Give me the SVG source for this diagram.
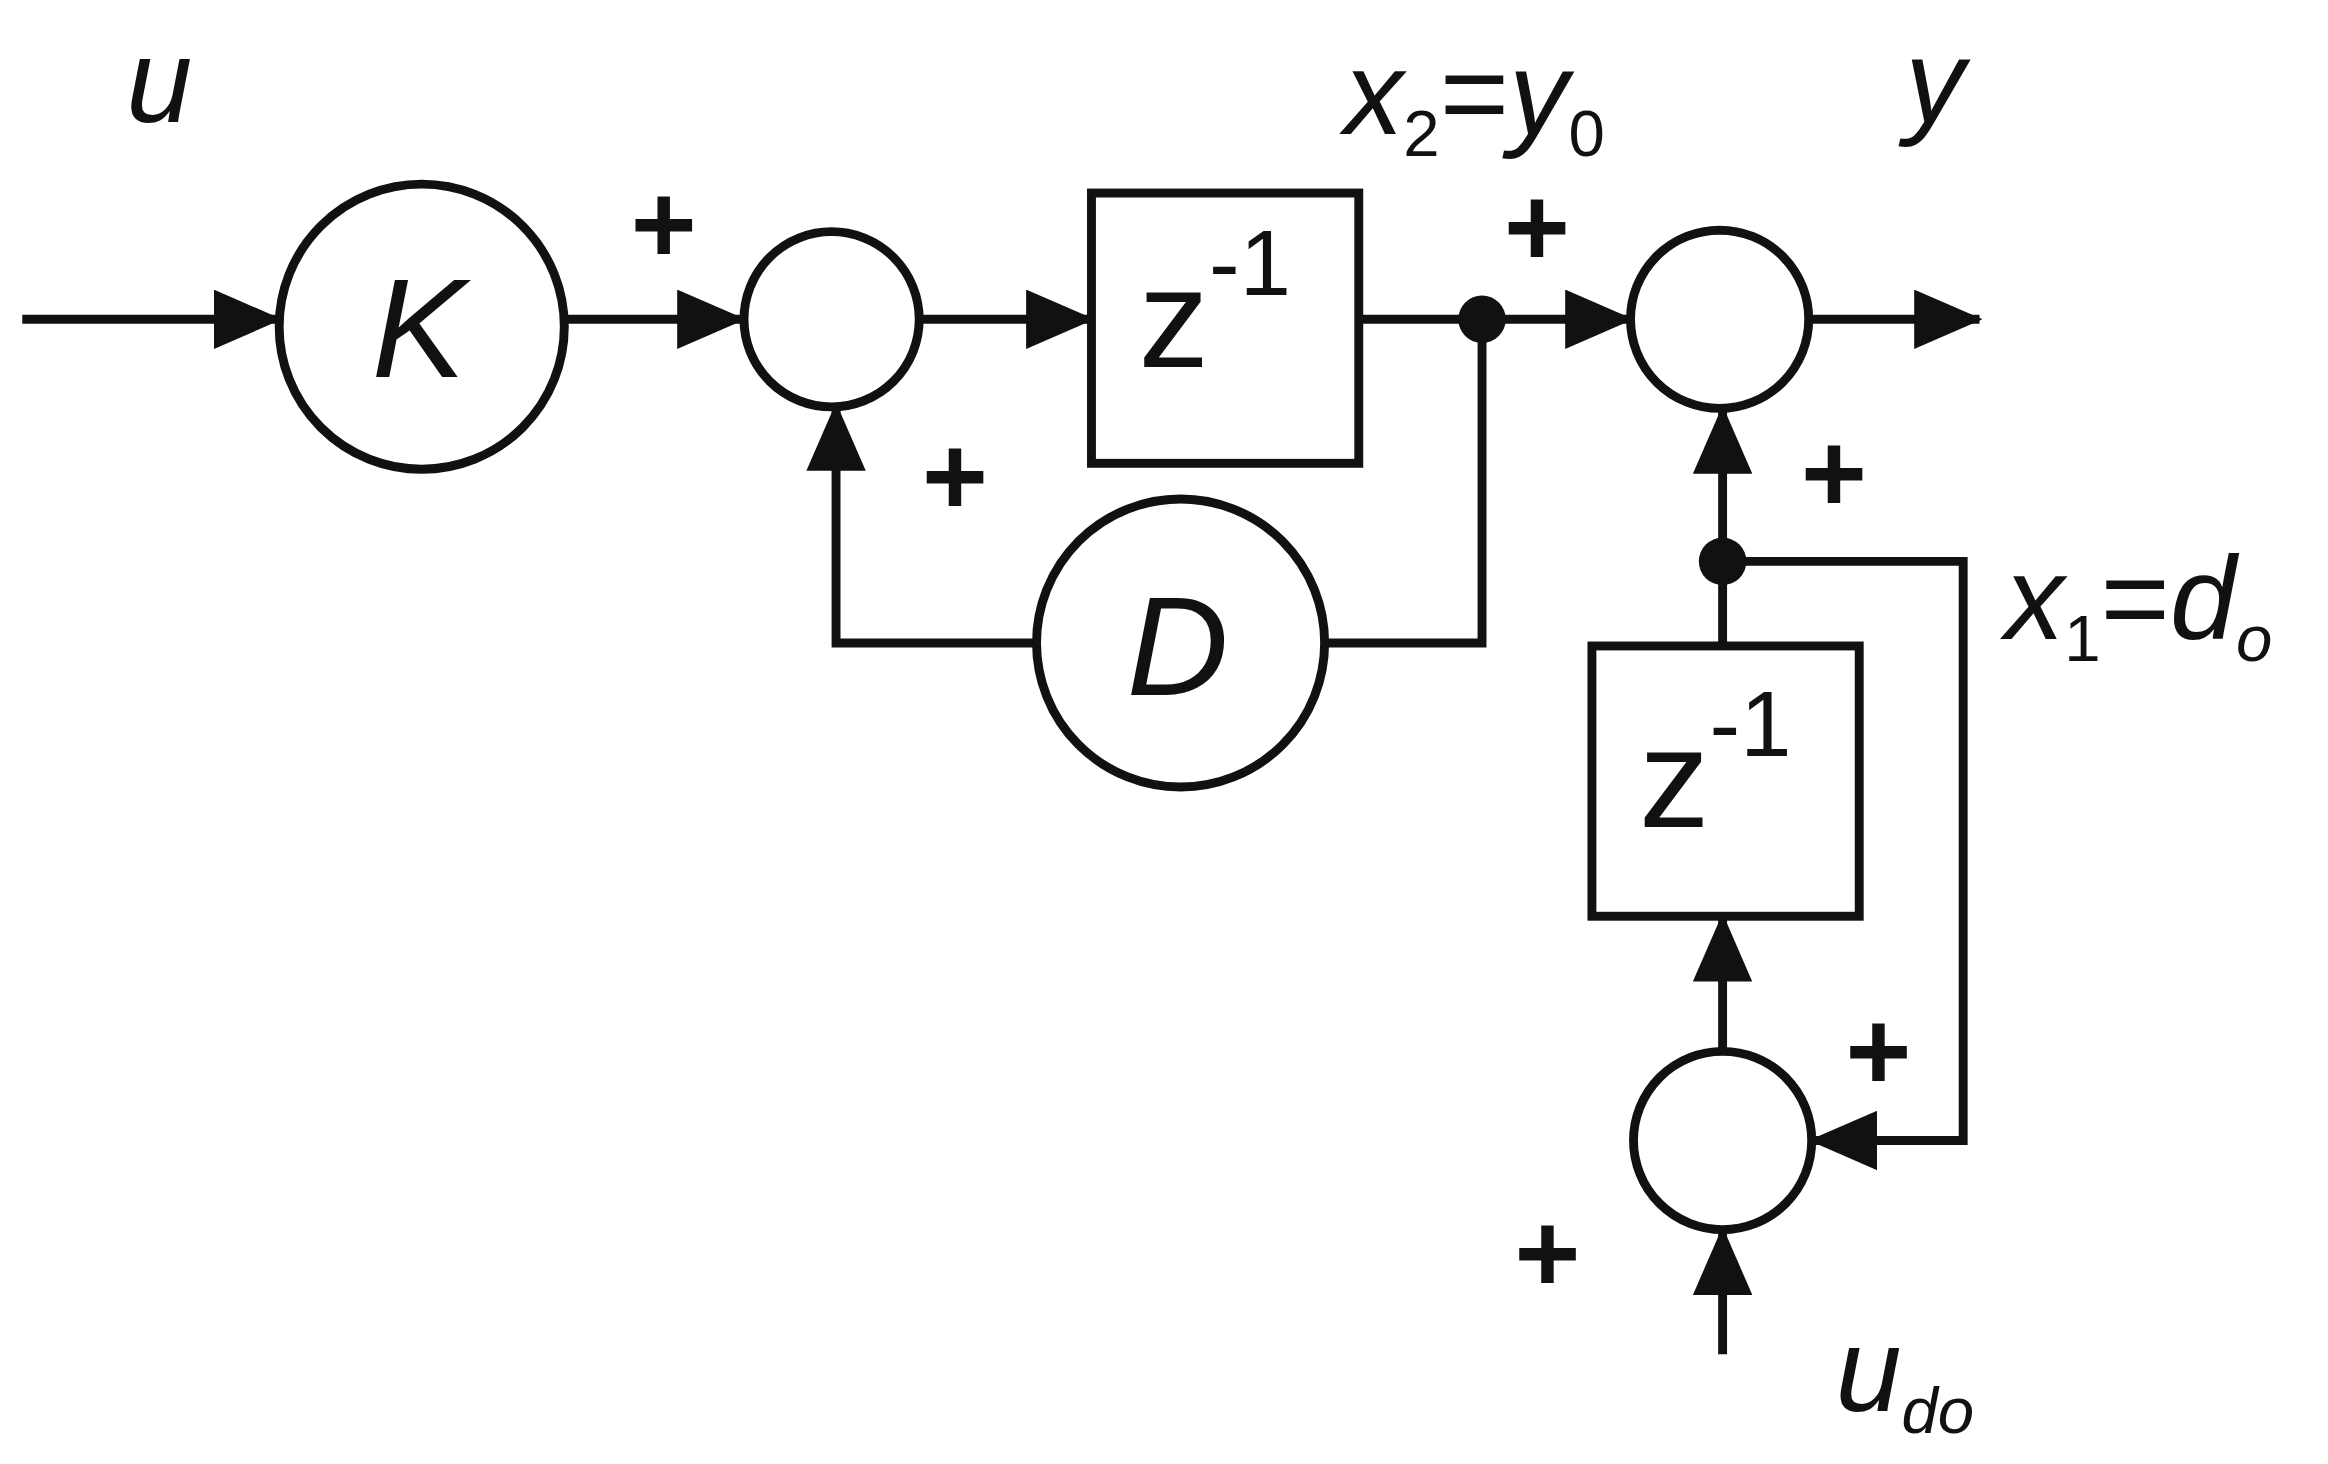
<svg xmlns="http://www.w3.org/2000/svg" width="2328" height="1464" viewBox="0 0 2328 1464">
<style>
.s{fill:none;stroke:#111;stroke-width:6}
.n{fill:#fff;stroke:#111;stroke-width:6}
.t{font-family:"Liberation Sans",Arial,sans-serif;fill:#111}
.i{font-style:italic}
.p{font-size:76px;font-weight:bold;text-anchor:middle}
</style>
<defs>
<marker id="a" viewBox="0 0 46 40" refX="44" refY="20" markerWidth="46" markerHeight="40" markerUnits="userSpaceOnUse" orient="auto"><path d="M0,0L46,20L0,40z" fill="#111"/></marker>
</defs>
<rect width="2328" height="1464" fill="#fff"/>
<g transform="scale(1.485)">
<g id="connectors">
<line class="s" x1="15" y1="215" x2="188" y2="215" marker-end="url(#a)"/>
<line class="s" x1="380" y1="215" x2="500" y2="215" marker-end="url(#a)"/>
<line class="s" x1="620" y1="215" x2="735" y2="215" marker-end="url(#a)"/>
<line class="s" x1="915" y1="215" x2="1098" y2="215" marker-end="url(#a)"/>
<line class="s" x1="1218" y1="215" x2="1333" y2="215" marker-end="url(#a)"/>
<polyline class="s" points="998,215 998,433 892,433"/>
<polyline class="s" points="698,433 563,433 563,273" marker-end="url(#a)"/>
<line class="s" x1="1160" y1="378" x2="1160" y2="275" marker-end="url(#a)"/>
<line class="s" x1="1160" y1="435" x2="1160" y2="378"/>
<polyline class="s" points="1160,378 1322,378 1322,768 1220,768" marker-end="url(#a)"/>
<line class="s" x1="1160" y1="708" x2="1160" y2="617" marker-end="url(#a)"/>
<line class="s" x1="1160" y1="912" x2="1160" y2="828" marker-end="url(#a)"/>
<circle cx="998" cy="215" r="16" fill="#111"/>
<circle cx="1160" cy="378" r="16" fill="#111"/>
</g>
<g id="K"><circle class="n" cx="284" cy="220" r="96"/><text class="t i" x="282" y="254" font-size="95" text-anchor="middle">K</text></g>
<g id="sum1"><circle class="n" cx="560" cy="215" r="59"/></g>
<g id="delay1"><rect class="n" x="735" y="130" width="180" height="182"/><text class="t" x="818" y="247" font-size="95" text-anchor="middle">z<tspan dy="-48" font-size="62">-1</tspan></text></g>
<g id="sum2"><circle class="n" cx="1158" cy="215" r="60"/></g>
<g id="D"><circle class="n" cx="795" cy="433" r="97"/><text class="t i" x="793" y="468" font-size="95" text-anchor="middle">D</text></g>
<g id="delay2"><rect class="n" x="1072" y="435" width="180" height="182"/><text class="t" x="1155" y="557" font-size="95" text-anchor="middle">z<tspan dy="-48" font-size="62">-1</tspan></text></g>
<g id="sum3"><circle class="n" cx="1160" cy="768" r="60"/></g>
<g id="labels" class="t">
<text class="i" x="85" y="82" font-size="80">u</text>
<text class="i" x="905" y="90" font-size="80">x<tspan font-size="44" font-style="normal" dy="15">2</tspan><tspan dy="-15" font-style="normal">=</tspan>y<tspan font-size="44" font-style="normal" dy="15">0</tspan></text>
<text class="i" x="1283" y="82" font-size="80">y</text>
<text class="i" x="1350" y="430" font-size="80">x<tspan font-size="44" font-style="normal" dy="15">1</tspan><tspan dy="-15" font-style="normal">=</tspan>d<tspan font-size="44" dy="15">o</tspan></text>
<text class="i" x="1236" y="950" font-size="80">u<tspan font-size="44" dy="15">do</tspan></text>
<text class="p" x="447" y="177">+</text>
<text class="p" x="643" y="347">+</text>
<text class="p" x="1035" y="179">+</text>
<text class="p" x="1235" y="345">+</text>
<text class="p" x="1265" y="734">+</text>
<text class="p" x="1042" y="870">+</text>
</g>
</g>
</svg>
